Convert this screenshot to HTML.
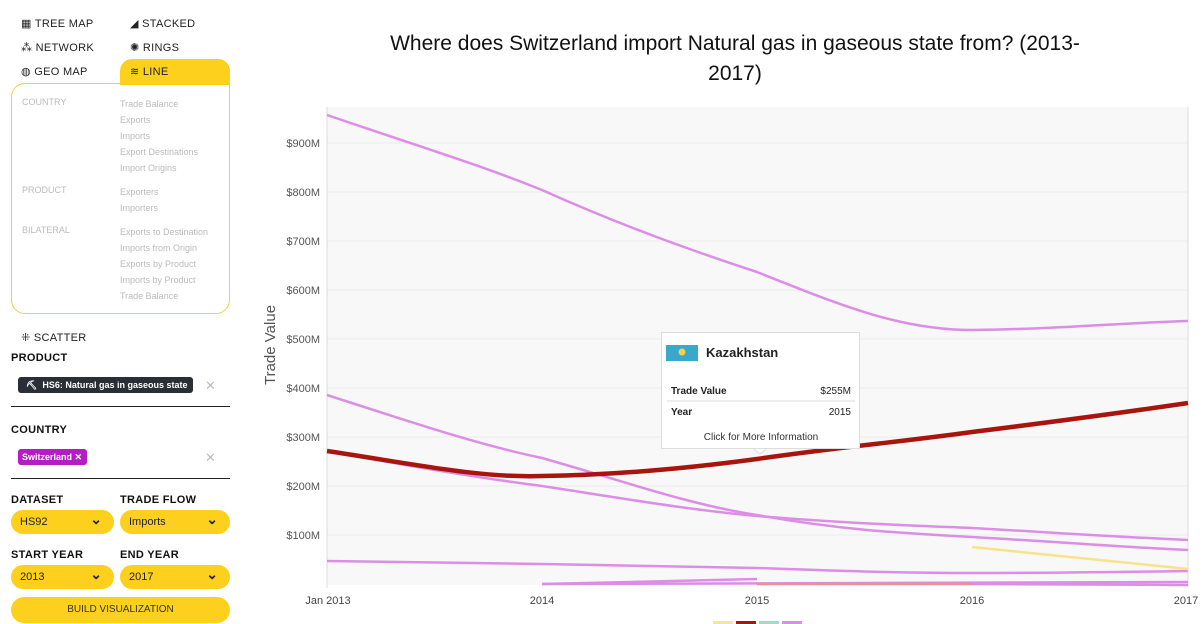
<!DOCTYPE html>
<html><head><meta charset="utf-8"><style>
body{margin:0;width:1202px;height:624px;background:#fff;font-family:"Liberation Sans",sans-serif;position:relative;overflow:hidden}
.a{position:absolute}
.nav{font-size:11px;color:#222;letter-spacing:.3px}
.lbl{font-size:11px;font-weight:bold;color:#111;letter-spacing:.3px}
.g{font-size:9px;color:#bbb}
.sel{background:#fdd01d;border-radius:12px;height:24px;font-size:11px;color:#222;box-sizing:border-box;padding:6px 0 0 9px}
.sel:after{content:"⌄";position:absolute;right:12px;top:1px;font-weight:bold;font-size:14px}
</style></head><body>
<div class="a nav" style="left:21px;top:17px">▦ TREE MAP</div>
<div class="a nav" style="left:130px;top:17px">◢ STACKED</div>
<div class="a nav" style="left:21px;top:41px">⁂ NETWORK</div>
<div class="a nav" style="left:130px;top:41px">✺ RINGS</div>
<div class="a nav" style="left:21px;top:65px">◍ GEO MAP</div>
<div class="a" style="left:120px;top:59px;width:110px;height:26px;background:#fdd01d;border-radius:12px 12px 0 0"></div>
<div class="a nav" style="left:130px;top:65px">≋ LINE</div>
<div class="a" style="left:11px;top:83px;width:217px;height:229px;border:1px solid #f1cf4a;border-radius:0 0 14px 14px;border-top-left-radius:14px"></div>
<div class="a g" style="left:22px;top:97px">COUNTRY</div>
<div class="a g" style="left:120px;top:96px;line-height:16px">Trade Balance<br>Exports<br>Imports<br>Export Destinations<br>Import Origins</div>
<div class="a g" style="left:22px;top:185px">PRODUCT</div>
<div class="a g" style="left:120px;top:184px;line-height:16px">Exporters<br>Importers</div>
<div class="a g" style="left:22px;top:225px">BILATERAL</div>
<div class="a g" style="left:120px;top:224px;line-height:16px">Exports to Destination<br>Imports from Origin<br>Exports by Product<br>Imports by Product<br>Trade Balance</div>
<div class="a nav" style="left:21px;top:331px">⁜ SCATTER</div>
<div class="a lbl" style="left:11px;top:352px">PRODUCT</div>
<div class="a" style="left:18px;top:377px;width:175px;height:16px;background:#2a2f36;border-radius:3px;color:#fff;font-size:9px;font-weight:bold;padding:3px 0 0 8px;box-sizing:border-box">⛏&nbsp; HS6: Natural gas in gaseous state ✕</div>
<div class="a" style="left:205px;top:378px;color:#bbb;font-size:13px">✕</div>
<div class="a" style="left:11px;top:406px;width:219px;height:1px;background:#222"></div>
<div class="a lbl" style="left:11px;top:424px">COUNTRY</div>
<div class="a" style="left:18px;top:449px;width:69px;height:16px;background:#b51dc4;border-radius:3px;color:#fff;font-size:9px;font-weight:bold;padding:3px 0 0 4px;box-sizing:border-box">Switzerland ✕</div>
<div class="a" style="left:205px;top:450px;color:#bbb;font-size:13px">✕</div>
<div class="a" style="left:11px;top:478px;width:219px;height:1px;background:#222"></div>
<div class="a lbl" style="left:11px;top:494px">DATASET</div>
<div class="a lbl" style="left:120px;top:494px">TRADE FLOW</div>
<div class="a sel" style="left:11px;top:510px;width:103px">HS92</div>
<div class="a sel" style="left:120px;top:510px;width:110px">Imports</div>
<div class="a lbl" style="left:11px;top:549px">START YEAR</div>
<div class="a lbl" style="left:120px;top:549px">END YEAR</div>
<div class="a sel" style="left:11px;top:565px;width:103px">2013</div>
<div class="a sel" style="left:120px;top:565px;width:110px">2017</div>
<div class="a" style="left:11px;top:597px;width:219px;height:26px;background:#fdd01d;border-radius:13px;font-size:10px;text-align:center;line-height:26px;color:#333">BUILD VISUALIZATION</div>

<div class="a" style="left:300px;top:29px;width:870px;text-align:center;font-size:21px;color:#111;line-height:30px">Where does Switzerland import Natural gas in gaseous state from? (2013-<br>2017)</div>

<svg class="a" style="left:0;top:0" width="1202" height="624">
<rect x="327" y="107" width="861" height="478" fill="#f8f8f8"/>
<g stroke="#ebebeb" stroke-width="1">
<line x1="327" x2="1188" y1="143" y2="143"/><line x1="327" x2="1188" y1="192" y2="192"/><line x1="327" x2="1188" y1="241" y2="241"/><line x1="327" x2="1188" y1="290" y2="290"/><line x1="327" x2="1188" y1="339" y2="339"/><line x1="327" x2="1188" y1="388" y2="388"/><line x1="327" x2="1188" y1="437" y2="437"/><line x1="327" x2="1188" y1="486" y2="486"/><line x1="327" x2="1188" y1="535" y2="535"/>
</g>
<line x1="327" x2="327" y1="107" y2="588" stroke="#ddd"/>
<line x1="1188" x2="1188" y1="107" y2="588" stroke="#ddd"/>
<g font-size="11" fill="#555" text-anchor="end">
<text x="320" y="147">$900M</text><text x="320" y="196">$800M</text><text x="320" y="245">$700M</text><text x="320" y="294">$600M</text><text x="320" y="343">$500M</text><text x="320" y="392">$400M</text><text x="320" y="441">$300M</text><text x="320" y="490">$200M</text><text x="320" y="539">$100M</text>
</g>
<g font-size="11" fill="#444" text-anchor="middle">
<text x="328" y="604">Jan 2013</text><text x="542" y="604">2014</text><text x="757" y="604">2015</text><text x="972" y="604">2016</text><text x="1186" y="604">2017</text>
</g>
<text transform="translate(275,345) rotate(-90)" font-size="15" fill="#555" text-anchor="middle">Trade Value</text>
<g fill="none" stroke="#dc8ee6" stroke-width="2.5">
<path d="M327,115 C430,150 480,165 542,190 C620,225 690,250 757,272 C840,305 900,330 972,330 C1060,329 1120,323 1188,321"/>
<path d="M327,395 C420,425 480,445 542,458 C620,480 690,505 757,515 C840,530 900,533 972,537 C1060,542 1120,547 1188,550"/>
<path d="M327,451 C420,468 480,478 542,486 C620,498 690,510 757,516 C840,523 900,525 972,528 C1060,533 1120,537 1188,540"/>
<path d="M327,561 C420,562 480,563 542,564 C620,566 690,567 757,568 C840,571 900,573 972,573 C1060,573 1120,572 1188,571"/>
<path d="M542,584 L757,579"/>
<path d="M542,584 L1188,582"/>
<path d="M972,584 L1188,585"/>
</g>
<path d="M757,584 L972,584" stroke="#ee9090" stroke-width="2.5"/>
<path d="M972,547 L1188,569" stroke="#f8e38a" stroke-width="2.5"/>
<path d="M327,451 C420,465 480,478 542,476 C620,475 690,468 757,459 C840,447 900,442 972,432 C1060,421 1120,413 1188,403" fill="none" stroke="#a8150f" stroke-width="4.5"/>
<rect x="713" y="621" width="20" height="4" fill="#f7e59a"/><rect x="736" y="621" width="20" height="4" fill="#a8150f"/><rect x="759" y="621" width="20" height="4" fill="#a0dcc8"/><rect x="782" y="621" width="20" height="4" fill="#dc8ee6"/>
<rect x="661.5" y="332.5" width="198" height="116" fill="#fff" stroke="#ddd"/>
<path d="M754,449 L760,454 L766,449" fill="#fff" stroke="#ddd"/>
<rect x="666" y="345" width="32" height="16" fill="#3aa7cc"/><circle cx="682" cy="352" r="3.5" fill="#f5d33a"/>
<text x="706" y="357" font-size="13" font-weight="bold" fill="#222">Kazakhstan</text>
<text x="671" y="394" font-size="10" font-weight="bold" fill="#222">Trade Value</text><text x="851" y="394" font-size="10" fill="#222" text-anchor="end">$255M</text>
<line x1="667" x2="855" y1="401" y2="401" stroke="#ddd"/>
<text x="671" y="415" font-size="10" font-weight="bold" fill="#222">Year</text><text x="851" y="415" font-size="10" fill="#222" text-anchor="end">2015</text>
<text x="761" y="440" font-size="10" fill="#333" text-anchor="middle">Click for More Information</text>
</svg>
</body></html>
